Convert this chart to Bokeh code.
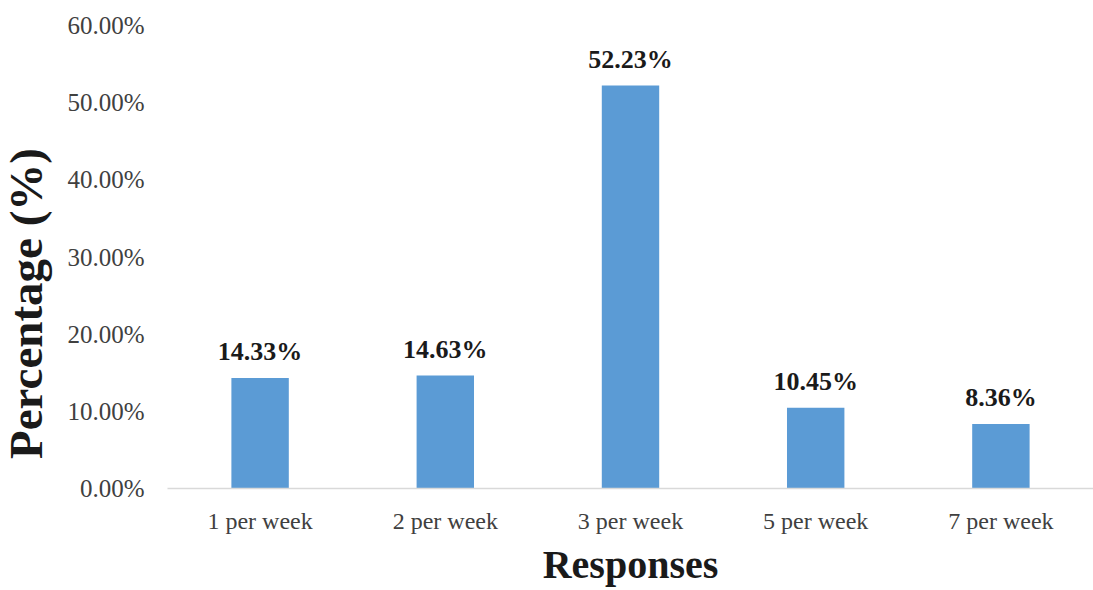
import math
from bokeh.plotting import figure
from bokeh.models import ColumnDataSource, PrintfTickFormatter, FixedTicker, Label, Range1d
from bokeh.core.properties import value
from bokeh.embed import file_html
from bokeh.resources import INLINE

categories = ["1 per week", "2 per week", "3 per week", "5 per week", "7 per week"]
percentages = [14.33, 14.63, 52.23, 10.45, 8.36]
y_ticks = [0, 10, 20, 30, 40, 50, 60]

labels = ["%.2f%%" % v for v in percentages]
src = ColumnDataSource(dict(cat=categories, val=percentages, lab=labels))

FONT = "Liberation Serif"

p = figure(x_range=categories, y_range=Range1d(0, 60), width=1093, height=590,
           output_backend="svg", toolbar_location=None,
           min_border_left=167, min_border_right=0, min_border_top=25, min_border_bottom=102)
p.outline_line_color = None
p.xgrid.grid_line_color = None
p.ygrid.grid_line_color = None
p.x_range.range_padding = 0

p.vbar(x="cat", top="val", width=0.31, source=src, fill_color="#5B9BD5", line_color=None)

p.text(x="cat", y="val", text="lab", source=src, text_align="center",
       text_baseline="alphabetic", y_offset=-26, text_font=value(FONT),
       text_font_style="bold", text_font_size="26px", text_color="#1a1a1a")

# y axis
p.yaxis.ticker = FixedTicker(ticks=y_ticks)
p.yaxis.formatter = PrintfTickFormatter(format="%.2f%%")
p.yaxis.axis_line_color = None
p.yaxis.major_tick_line_color = None
p.yaxis.minor_tick_line_color = None
p.yaxis.major_label_standoff = 17
p.yaxis.major_label_text_font = FONT
p.yaxis.major_label_text_font_size = "25px"
p.yaxis.major_label_text_color = "#404040"

# x axis
p.xaxis.axis_line_color = "#D9D9D9"
p.xaxis.axis_line_width = 1.5
p.xaxis.major_tick_line_color = None
p.xaxis.minor_tick_line_color = None
p.xaxis.major_label_standoff = 13
p.xaxis.major_label_text_font = FONT
p.xaxis.major_label_text_font_size = "24px"
p.xaxis.major_label_text_color = "#404040"
p.xaxis.axis_label = "Responses"
p.xaxis.axis_label_text_font = FONT
p.xaxis.axis_label_text_font_style = "bold"
p.xaxis.axis_label_text_font_size = "40px"
p.xaxis.axis_label_text_color = "#1a1a1a"
p.xaxis.axis_label_standoff = 5

ylab = Label(x=13, y=185, x_units="screen", y_units="screen", text="Percentage (%)",
             angle=math.pi / 2, text_align="center", text_baseline="middle", text_font=FONT,
             text_font_style="bold", text_font_size="47px", text_color="#1a1a1a")
p.add_layout(ylab, "left")

open("out.html", "w").write(file_html(p, INLINE))
